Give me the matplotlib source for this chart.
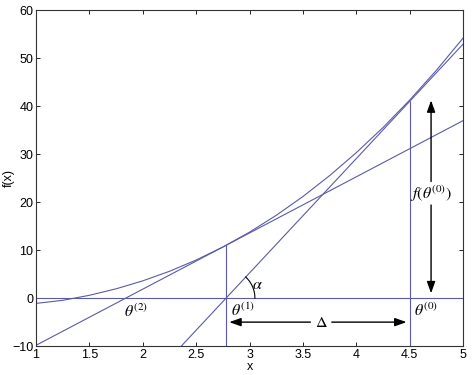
import matplotlib
matplotlib.use("Agg")
import matplotlib.pyplot as plt
import numpy as np

plt.rcParams['font.family'] = 'Liberation Sans'
plt.rcParams['mathtext.fontset'] = 'stix'

# curve f(x), values
x = [1.0, 1.25, 1.5, 1.75, 2.0, 2.25, 2.5, 2.75, 3.0,
     3.25, 3.5, 3.75, 4.0, 4.25, 4.5, 4.75, 5.0]
fx = [-1.1, -0.46, 0.59, 1.94, 3.6, 5.59, 7.94, 10.65, 13.75,
      17.25, 21.17, 25.52, 30.31, 35.54, 41.27, 47.47, 54.18]

# newton iterates theta(0), theta(1), theta(2) and f at the first two
theta = [4.5, 2.78, 1.84]
f_theta = [41.0, 11.0]

line_col = '#5a5aa8'

fig, ax = plt.subplots(figsize=(4.74, 3.75), dpi=100)
fig.subplots_adjust(left=0.076, right=0.977, bottom=0.077, top=0.973)

ax.plot(x, fx, color=line_col, lw=0.8)
ax.axhline(0, color=line_col, lw=0.8)

# tangents: through (theta_k, f(theta_k)) and (theta_k+1, 0)
for k in range(2):
    ax.axline((theta[k + 1], 0), (theta[k], f_theta[k]), color=line_col, lw=0.8)

ax.vlines(theta[:2], -10, f_theta, color=line_col, lw=0.8)

ax.set_xlim(1, 5)
ax.set_ylim(-10, 60)
ax.set_xticks(np.arange(1, 5.01, 0.5))
ax.set_xticklabels(['1', '1.5', '2', '2.5', '3', '3.5', '4', '4.5', '5'])
ax.set_yticks(np.arange(-10, 61, 10))
ax.tick_params(direction='in', top=True, right=True, labelsize=9,
               length=3, width=0.6, pad=2)
for s in ax.spines.values():
    s.set_linewidth(0.8)
    s.set_color('#333333')

ax.set_xlabel('x', fontsize=9, labelpad=0)
ax.set_ylabel('f(x)', fontsize=9)
ax.yaxis.set_label_coords(-0.050, 0.5)

# angle alpha between tangent and axis
slope = f_theta[0] / (theta[0] - theta[1])
px_per_x = 0.901 * 474 / 4.0
px_per_y = 0.896 * 375 / 70.0
ang = np.arctan(slope * px_per_y / px_per_x)
r = 0.27
t = np.linspace(0, ang, 40)
ax.plot(theta[1] + r * np.cos(t), r * px_per_x / px_per_y * np.sin(t),
        color='black', lw=0.8)

mfs = 11.5
ax.text(3.02, 2.9, r'$\alpha$', fontsize=mfs, ha='left', va='center')
ax.text(1.82, -2.8, r'$\theta^{(2)}$', fontsize=mfs, ha='left', va='center')
ax.text(2.83, -2.6, r'$\theta^{(1)}$', fontsize=mfs, ha='left', va='center')
ax.text(4.54, -2.6, r'$\theta^{(0)}$', fontsize=mfs, ha='left', va='center')
ax.text(4.70, 21.8, r'$f(\theta^{(0)})$', fontsize=mfs, ha='center', va='center')
ax.text(3.67, -5.0, r'$\Delta$', fontsize=mfs, ha='center', va='center')

arr = dict(arrowstyle='-|>,head_length=0.7,head_width=0.25', color='black',
           lw=1.0, shrinkA=0, shrinkB=0, mutation_scale=10)
ax.annotate('', xy=(4.7, 41.2), xytext=(4.7, 24.3), arrowprops=arr)
ax.annotate('', xy=(4.7, 1.0), xytext=(4.7, 19.4), arrowprops=arr)
ax.annotate('', xy=(2.81, -5.0), xytext=(3.57, -5.0), arrowprops=arr)
ax.annotate('', xy=(4.47, -5.0), xytext=(3.77, -5.0), arrowprops=arr)

fig.savefig('out.png', dpi=100)
